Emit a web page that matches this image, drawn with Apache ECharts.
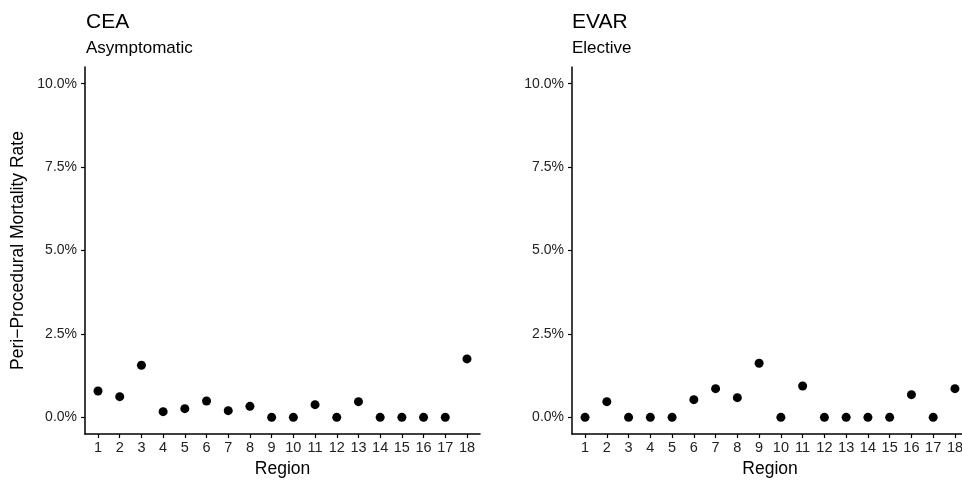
<!DOCTYPE html>
<html>
<head>
<meta charset="utf-8">
<script src="https://cdn.jsdelivr.net/npm/echarts@6/dist/echarts.min.js"></script>
<style>
html,body{margin:0;padding:0;background:#fff;}
#chart{width:962px;height:482px;}
</style>
</head>
<body>
<div id="chart"></div>
<script>
const regions = [1,2,3,4,5,6,7,8,9,10,11,12,13,14,15,16,17,18];
const ceaRates = [0.79,0.62,1.56,0.17,0.26,0.49,0.20,0.33,0,0,0.38,0,0.47,0,0,0,0,1.75];
const evarRates = [0,0.47,0,0,0,0.53,0.86,0.59,1.62,0,0.94,0,0,0,0,0.68,0,0.86];
const yTicks = [0,2.5,5,7.5,10];
const panelTitles = ['CEA','EVAR'];
const panelSubtitles = ['Asymptomatic','Elective'];
const xAxisTitle = 'Region';
const yAxisTitle = 'Peri\u2212Procedural Mortality Rate';

const FONT = 'Liberation Sans, Arial, sans-serif';
const chart = echarts.init(document.getElementById('chart'), null, {renderer:'canvas'});

const grids = [
  {left:85, top:67, width:395, height:367, outerBoundsMode:'none', containLabel:false},
  {left:572, top:67, width:396, height:367, outerBoundsMode:'none', containLabel:false}
];

function xAxisFor(i){
  return {
    type:'value', gridIndex:i, min:0.4, max:18.6,
    name:xAxisTitle, nameLocation:'middle', nameGap:26,
    nameTextStyle:{fontFamily:FONT, fontSize:17.5, color:'#000'},
    axisLine:{show:true, onZero:false, lineStyle:{color:'#000', width:1.5}},
    axisTick:{show:true, length:4, lineStyle:{color:'#000', width:1.2}, customValues:regions},
    axisLabel:{fontFamily:FONT, fontSize:14.5, color:'#222', margin:6, customValues:regions, formatter:v=>String(v)},
    splitLine:{show:false}
  };
}
function yAxisFor(i){
  return {
    type:'value', gridIndex:i, min:-0.5, max:10.5,
    name: i===0 ? yAxisTitle : '', nameLocation:'middle', nameGap:58, nameRotate:90,
    nameTextStyle:{fontFamily:FONT, fontSize:17.5, color:'#000'},
    axisLine:{show:true, onZero:false, lineStyle:{color:'#000', width:1.5}},
    axisTick:{show:true, length:4, lineStyle:{color:'#000', width:1.2}, customValues:yTicks},
    axisLabel:{fontFamily:FONT, fontSize:14, color:'#222', margin:8, customValues:yTicks, formatter:v=>v.toFixed(1)+'%'},
    splitLine:{show:false}
  };
}

const option = {
  backgroundColor:'#fff',
  animation:false,
  title: panelTitles.map((t,i)=>({
    text:t, subtext:panelSubtitles[i],
    left: i===0 ? 81 : 567, top:7, itemGap:7,
    textStyle:{fontFamily:FONT, fontSize:21, fontWeight:'normal', color:'#000'},
    subtextStyle:{fontFamily:FONT, fontSize:17, color:'#000'}
  })),
  grid: grids,
  xAxis: [xAxisFor(0), xAxisFor(1)],
  yAxis: [yAxisFor(0), yAxisFor(1)],
  series: [
    {type:'scatter', xAxisIndex:0, yAxisIndex:0, symbolSize:9, itemStyle:{color:'#000', opacity:1},
     data: regions.map((r,k)=>[r, ceaRates[k]])},
    {type:'scatter', xAxisIndex:1, yAxisIndex:1, symbolSize:9, itemStyle:{color:'#000', opacity:1},
     data: regions.map((r,k)=>[r, evarRates[k]])}
  ]
};
chart.setOption(option);
</script>
</body>
</html>
